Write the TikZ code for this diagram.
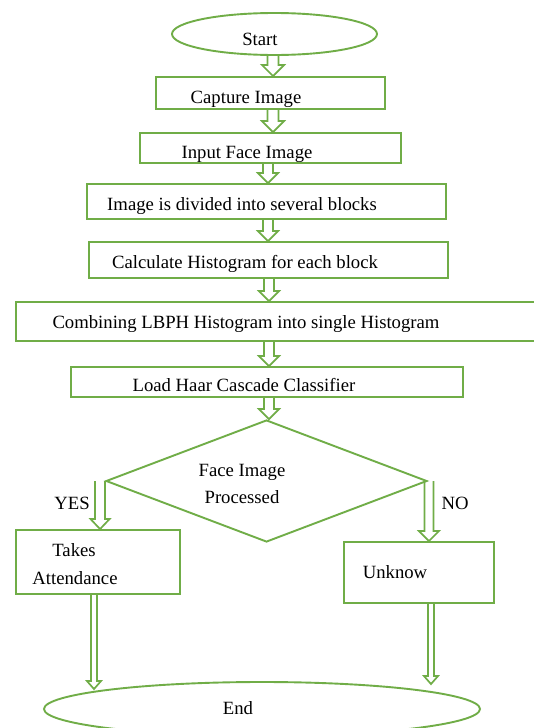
\documentclass[tikz,border=0pt]{standalone}
\usepackage{fontspec}
\setmainfont{Liberation Serif}
\usetikzlibrary{shapes.geometric,calc}
\definecolor{fgreen}{HTML}{70AD47}
\tikzset{
  box/.style={draw=fgreen, line width=1.9pt, rectangle, inner sep=0pt, fill=white},
  oval/.style={draw=fgreen, line width=1.9pt, ellipse, inner sep=0pt, fill=white},
  dec/.style={draw=fgreen, line width=1.9pt, diamond, inner sep=0pt, fill=white},
  txt/.style={inner sep=0pt, text height=12pt, text depth=0pt, font=\fontsize{18.7}{22}\selectfont},
  barr/.style={draw=fgreen, line width=1.7pt, fill=none, line join=miter}
}
% #1 from, #2 to (x taken from #1, y from #2), #3 half shaft, #4 half head, #5 head length
\newcommand{\barrow}[5]{%
  \draw[barr] let \p1=#1, \p2=#2 in
    (\x1-#3,\y1) -- (\x1-#3,\y2+#5) -- (\x1-#4,\y2+#5) -- (\x1,\y2)
    -- (\x1+#4,\y2+#5) -- (\x1+#3,\y2+#5) -- (\x1+#3,\y1);}
\begin{document}
\begin{tikzpicture}[x=1pt,y=-1pt]
\useasboundingbox[fill=white] (0,0) rectangle (534,728);

\node[oval, minimum width=205pt, minimum height=42pt] (start) at (274.5,34) {};
\node[box, minimum width=229pt, minimum height=32pt] (capture) at (270.5,93) {};
\node[box, minimum width=261pt, minimum height=30pt] (input) at (270.5,148) {};
\node[box, minimum width=359pt, minimum height=35pt] (divide) at (266.5,201.5) {};
\node[box, minimum width=359pt, minimum height=36pt] (calc) at (268.5,260) {};
\node[box, minimum width=524pt, minimum height=39pt] (comb) at (278,321.5) {};
\node[box, minimum width=392pt, minimum height=30pt] (load) at (267,382) {};
\node[dec, minimum width=321pt, minimum height=122pt, aspect=2.63] (dia) at (266.5,481) {};
\node[box, minimum width=164pt, minimum height=64pt] (takes) at (98,562) {};
\node[box, minimum width=150pt, minimum height=61pt] (unk) at (419,572.5) {};
\node[oval, minimum width=436pt, minimum height=54pt] (end) at (262,709) {};

\node[txt] (tstart) at (260,39) {Start};
\node[txt] (tcapture) at (246,97) {Capture Image};
\node[txt] (tinput) at (247,152) {Input Face Image};
\node[txt] (tdivide) at (242,204) {Image is divided into several blocks};
\node[txt] (tcalc) at (245,262) {Calculate Histogram for each block};
\node[txt] (tcomb) at (246,322) {Combining LBPH Histogram into single Histogram};
\node[txt] (tload) at (244,385) {Load Haar Cascade Classifier};
\node[txt] (tdia1) at (242,470) {Face Image};
\node[txt] (tdia2) at (242,497) {Processed};
\node[txt] (tyes) at (72,503) {YES};
\node[txt] (tno) at (455,503) {NO};
\node[txt] (ttakes1) at (74,550) {Takes};
\node[txt] (ttakes2) at (75,578) {Attendance};
\node[txt] (tunk) at (395,572) {Unknow};
\node[txt] (tend) at (238,708) {End};

\barrow{([xshift=-1.5pt]start.south)}{(capture.north)}{5.5pt}{11pt}{11pt}
\barrow{([xshift=2.5pt]capture.south)}{(input.north)}{5.5pt}{11pt}{11pt}
\barrow{([xshift=-2.5pt]input.south)}{(divide.north)}{5pt}{10pt}{10pt}
\barrow{([xshift=1.5pt]divide.south)}{(calc.north)}{5pt}{10pt}{10pt}
\barrow{([xshift=0.5pt]calc.south)}{(comb.north)}{5pt}{10pt}{10pt}
\barrow{([xshift=-9pt]comb.south)}{(load.north)}{5pt}{10pt}{10pt}
\barrow{([xshift=2pt]load.south)}{(dia.north)}{5pt}{10pt}{10pt}
\barrow{([xshift=-5pt]dia.west)}{(takes.north)}{5pt}{9.5pt}{10pt}
\barrow{([xshift=1pt]dia.east)}{(unk.north)}{4.5pt}{10pt}{10pt}
\barrow{([xshift=-4pt]takes.south)}{([yshift=-8pt]end.north)}{3pt}{7pt}{8pt}
\barrow{([xshift=12pt]unk.south)}{([yshift=-3pt]end.north)}{3pt}{7pt}{8pt}
\end{tikzpicture}
\end{document}
